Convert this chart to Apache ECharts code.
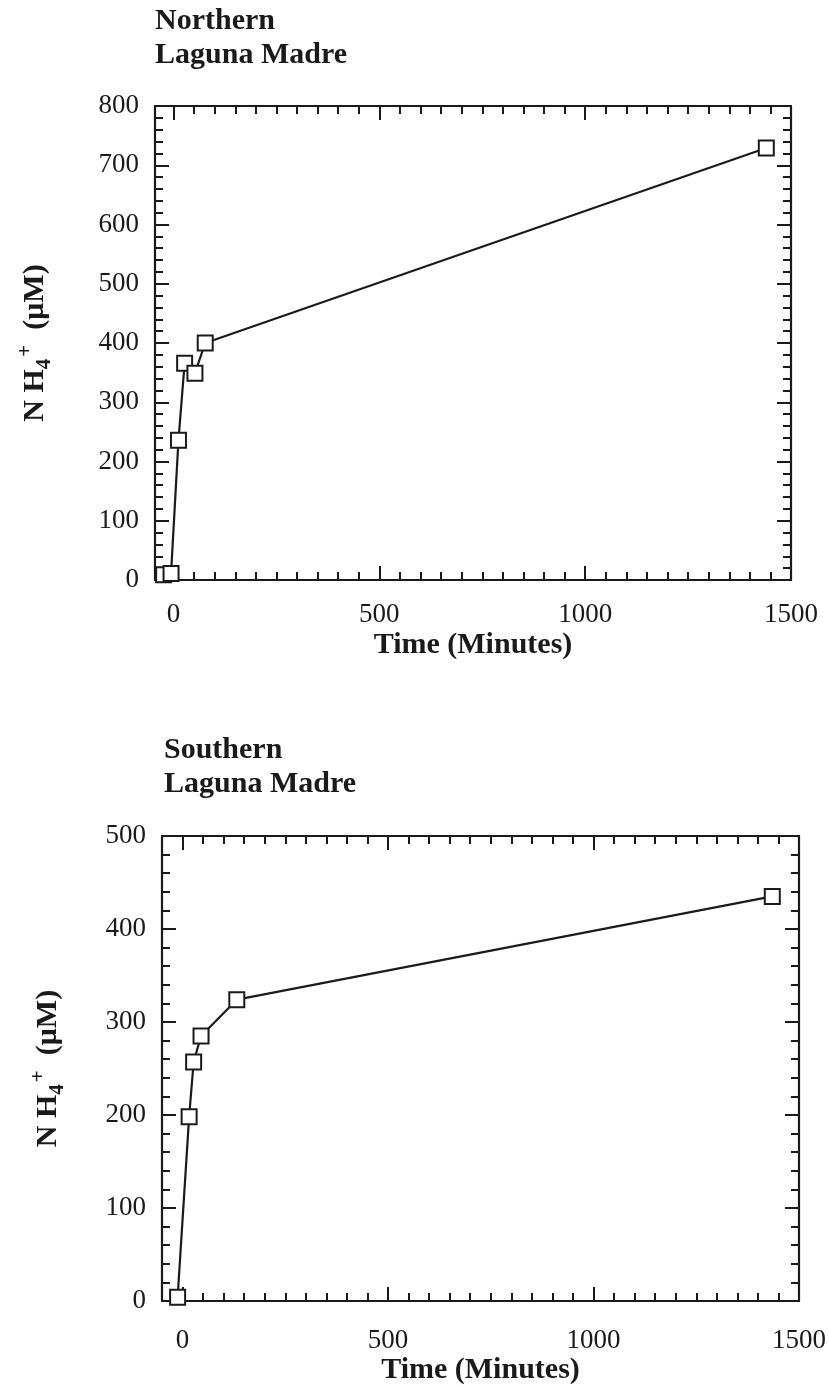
<!DOCTYPE html>
<html>
<head>
<meta charset="utf-8">
<script src="https://cdn.jsdelivr.net/npm/echarts@6/dist/echarts.min.js"></script>
<style>
  html, body { margin: 0; padding: 0; background: #ffffff; }
  #chart { width: 829px; height: 1386px; }
</style>
</head>
<body>
<div id="chart"></div>
<script>
// Ammonium release over time, Northern and Southern Laguna Madre
const northTime = [-24, -6, 12, 27, 52, 77, 1440];
const northNH4  = [9, 11, 236, 366, 349, 400, 729];
const southTime = [-12, 16, 27, 45, 132, 1435];
const southNH4  = [4, 198, 257, 285, 324, 435];

const timeMajorTicks = [0, 500, 1000, 1500];
const northMajorTicks = [0, 100, 200, 300, 400, 500, 600, 700, 800];
const southMajorTicks = [0, 100, 200, 300, 400, 500];

const titles = ['Northern\nLaguna Madre', 'Southern\nLaguna Madre'];
const xName = 'Time (Minutes)';

const FONT = 'Liberation Serif';
const INK = '#1a1a1a';

// minor tick values between min and max, skipping the major ones
function minorValues(min, max, step, majors) {
  const out = [];
  for (let v = Math.ceil(min / step) * step; v <= max; v += step) {
    if (majors.indexOf(v) < 0) out.push(v);
  }
  return out;
}

function pairs(xs, ys) {
  return xs.map((x, i) => [x, ys[i]]);
}

// Four axes per dimension: labelled major, minor, and the mirrored pair on the far side
function axesFor(dim, gridIndex, min, max, majors, minors, main) {
  const sides = dim === 'x' ? ['bottom', 'top'] : ['left', 'right'];
  const out = [];
  sides.forEach((pos, s) => {
    [true, false].forEach((isMajor) => {
      const ax = {
        type: 'value',
        gridIndex: gridIndex,
        position: pos,
        min: min,
        max: max,
        splitLine: { show: false },
        axisLine: { show: isMajor, onZero: false, lineStyle: { color: INK, width: 2.2 } },
        axisTick: {
          show: true,
          inside: true,
          length: isMajor ? 14 : 8,
          customValues: isMajor ? majors : minors,
          lineStyle: { color: INK, width: 2 }
        },
        axisLabel: { show: false },
        axisPointer: { show: false }
      };
      if (isMajor && s === 0) {
        Object.assign(ax, main);
        ax.axisLabel = Object.assign({
          show: true,
          customValues: majors,
          formatter: (v) => String(v),
          fontFamily: FONT,
          fontSize: 27,
          color: INK
        }, main.axisLabel || {});
      }
      out.push(ax);
    });
  });
  return out;
}

const yNameRich = {
  b:   { fontFamily: FONT, fontSize: 30, fontWeight: 'bold', color: INK, lineHeight: 40 },
  sub: { fontFamily: FONT, fontSize: 21, fontWeight: 'bold', color: INK, lineHeight: 20, verticalAlign: 'bottom' },
  sup: { fontFamily: FONT, fontSize: 21, fontWeight: 'bold', color: INK, lineHeight: 20, verticalAlign: 'top', padding: [0, 0, 0, 2] }
};
const yName = '{b|N H}{sub|4}{sup|+}{b|  (\u03bcM)}';

function xMain(gap, labelMargin) {
  return {
    name: xName,
    nameLocation: 'middle',
    nameGap: gap,
    nameTextStyle: { fontFamily: FONT, fontSize: 30, fontWeight: 'bold', color: INK },
    axisLabel: { margin: labelMargin }
  };
}
function yMain(gap) {
  return {
    name: yName,
    nameLocation: 'middle',
    nameRotate: 90,
    nameGap: gap,
    nameTextStyle: { rich: yNameRich },
    axisLabel: { margin: 16 }
  };
}

const grids = [
  { left: 155, top: 106, width: 636, height: 474 },
  { left: 162, top: 836, width: 637, height: 467 }
];

const xMinN = -45, xMinS = -50, xMax = 1500;

const xAxes = []
  .concat(axesFor('x', 0, xMinN, xMax, timeMajorTicks, minorValues(xMinN, xMax, 50, timeMajorTicks), xMain(50, 21)))
  .concat(axesFor('x', 1, xMinS, xMax, timeMajorTicks, minorValues(xMinS, xMax, 50, timeMajorTicks), xMain(54, 26)));
const yAxes = []
  .concat(axesFor('y', 0, 0, 800, northMajorTicks, minorValues(0, 800, 20, northMajorTicks), yMain(100)))
  .concat(axesFor('y', 1, 0, 500, southMajorTicks, minorValues(0, 500, 20, southMajorTicks), yMain(94)));

function lineSeries(data, axisIndex) {
  return {
    type: 'line',
    xAxisIndex: axisIndex,
    yAxisIndex: axisIndex,
    data: data,
    symbol: 'rect',
    symbolSize: 15,
    showAllSymbol: true,
    lineStyle: { color: INK, width: 2.2 },
    itemStyle: { color: '#ffffff', borderColor: INK, borderWidth: 2 },
    emphasis: { disabled: true },
    animation: false,
    z: 5
  };
}

const option = {
  backgroundColor: '#ffffff',
  animation: false,
  title: [
    { text: titles[0], left: 150, top: -1,
      textStyle: { fontFamily: FONT, fontSize: 30, fontWeight: 'bold', color: INK, lineHeight: 34 } },
    { text: titles[1], left: 159, top: 728,
      textStyle: { fontFamily: FONT, fontSize: 30, fontWeight: 'bold', color: INK, lineHeight: 34 } }
  ],
  grid: grids,
  xAxis: xAxes,
  yAxis: yAxes,
  series: [
    lineSeries(pairs(northTime, northNH4), 0),
    lineSeries(pairs(southTime, southNH4), 4)
  ]
};

const chart = echarts.init(document.getElementById('chart'), null, { renderer: 'canvas' });
chart.setOption(option);
</script>
</body>
</html>
